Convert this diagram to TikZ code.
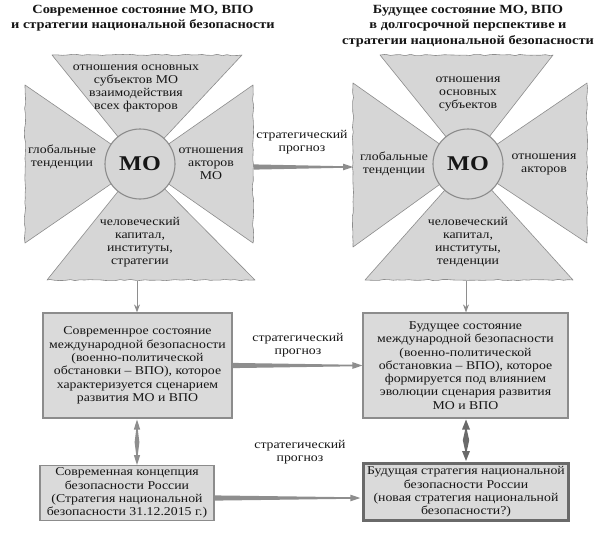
\documentclass[tikz,border=0pt]{standalone}
\usepackage{fontspec}
\setmainfont{Liberation Serif}[FakeStretch=1.15]
\usetikzlibrary{calc,decorations.pathmorphing,arrows.meta}
\definecolor{armfill}{HTML}{D6D6D6}
\definecolor{edgegray}{HTML}{8C8C8C}
\definecolor{boxfill}{HTML}{DADADA}
\definecolor{txt}{HTML}{161616}
\definecolor{arrgray}{HTML}{8E8E8E}
\definecolor{darkedge}{HTML}{6A6A6A}
\newcommand{\taperarr}[2]{%
  \fill[arrgray] ($(#1)+(0,-2.6)$) -- ($(#2)+(-10,-0.8)$) -- ($(#2)+(-10,-3.4)$) -- (#2)
    -- ($(#2)+(-10,3.4)$) -- ($(#2)+(-10,0.8)$) -- ($(#1)+(0,2.6)$) -- cycle;}
\newcommand{\spindle}[4]{% top, bottom, color, half width
  \fill[#3] (#1) -- ($(#1)+(#4+0.8,10)$) -- ($(#1)+(0.8,10)$) -- ($(#1)!0.5!(#2)+(#4,0)$)
    -- ($(#2)+(0.8,-10)$) -- ($(#2)+(#4+0.8,-10)$) -- (#2) -- ($(#2)+(-#4-0.8,-10)$)
    -- ($(#2)+(-0.8,-10)$) -- ($(#1)!0.5!(#2)+(-#4,0)$) -- ($(#1)+(-0.8,10)$)
    -- ($(#1)+(-#4-0.8,10)$) -- cycle;}
\tikzset{
  wavy/.style={decoration={random steps,segment length=5pt,amplitude=0.7pt}},
  arm/.style={fill=armfill,draw=edgegray,line width=0.6pt,line join=round},
  circ/.style={circle,fill=armfill,draw=edgegray,line width=1.1pt,minimum size=70pt,inner sep=0pt,
    text=txt,font=\fontsize{21}{24}\selectfont\bfseries},
  lbl/.style={align=center,text=txt,inner sep=1pt,font=\fontsize{12}{13}\selectfont},
  boxst/.style={draw=edgegray,fill=boxfill,line width=1.2pt,align=center,text=txt,inner sep=2pt,
    font=\fontsize{12}{13.3}\selectfont},
  title/.style={align=center,text=txt,font=\fontsize{12.5}{15.5}\selectfont\bfseries},
  vline/.style={draw=arrgray,line width=1pt,-{Stealth[length=8pt,width=6pt]}}
}
\begin{document}
\begin{tikzpicture}[x=1pt,y=-1pt]
\useasboundingbox (0,0) rectangle (596,547);
\pgfmathsetseed{7}
% titles
\node[title] (tl) at (143,18) {Современное состояние МО, ВПО\\и стратегии национальной безопасности};
\node[title] (tr) at (468,26) {Будущее состояние МО, ВПО\\в долгосрочной перспективе и\\стратегии национальной безопасности};
% left star
\filldraw[arm] (140,164) -- (52,55) decorate[wavy]{-- (242,55)} -- cycle;
\filldraw[arm] (140,164) -- (25,243) decorate[wavy]{-- (25,85)} -- cycle;
\filldraw[arm] (140,164) -- (253,85) decorate[wavy]{-- (253,243)} -- cycle;
\filldraw[arm] (140,164) -- (255,280) decorate[wavy]{-- (47,280)} -- cycle;
\node[circ] (LMO) at (140,164) {МО};
\node[lbl] (Ltop) at (136,88) {отношения основных\\субъектов МО\\взаимодействия\\всех факторов};
\node[lbl] (Lleft) at (62,157) {глобальные\\тенденции};
\node[lbl] (Lright) at (211,164) {отношения\\акторов\\МО};
\node[lbl] (Lbottom) at (140,242) {человеческий\\капитал,\\институты,\\стратегии};
% right star
\filldraw[arm] (468,164) -- (380,55) decorate[wavy]{-- (553,55)} -- cycle;
\filldraw[arm] (468,164) -- (353,247) decorate[wavy]{-- (353,83)} -- cycle;
\filldraw[arm] (468,164) -- (587,83) decorate[wavy]{-- (587,243)} -- cycle;
\filldraw[arm] (468,164) -- (573,280) decorate[wavy]{-- (365,280)} -- cycle;
\node[circ] (RMO) at (468,164) {МО};
\node[lbl] (Rtop) at (468,94) {отношения\\основных\\субъектов};
\node[lbl] (Rleft) at (394,164) {глобальные\\тенденции};
\node[lbl] (Rright) at (544,164) {отношения\\акторов};
\node[lbl] (Rbottom) at (468,242) {человеческий\\капитал,\\институты,\\тенденции};
% star connector ends
\coordinate (LstarE) at (254,167);
\coordinate (RstarW) at (353,167);
\coordinate (LstarS) at (137,281);
\coordinate (RstarS) at (466,281);
% boxes
\node[boxst,minimum width=189pt,minimum height=105pt] (b1) at (137.5,365.5)
  {Современнрое состояние\\международной безопасности\\(военно-политической\\обстановки – ВПО), которое\\характеризуется сценарием\\развития МО и ВПО};
\node[boxst,minimum width=205pt,minimum height=105pt] (b2) at (465.5,365.5)
  {Будущее состояние\\международной безопасности\\(военно-политической\\обстановкиа – ВПО), которое\\формируется под влиянием\\эволюции сценария развития\\МО и ВПО};
\node[boxst,minimum width=174pt,minimum height=54pt] (b3) at (127,493)
  {Современная концепция\\безопасности России\\(Стратегия национальной\\безопасности 31.12.2015 г.)};
\node[boxst,draw=darkedge,line width=3.5pt,minimum width=205pt,minimum height=57pt] (b4) at (466,492)
  {Будущая стратегия национальной\\безопасности России\\(новая стратегия национальной\\безопасности?)};
% labels
\node[lbl] (p1) at (302,142) {стратегический\\прогноз};
\node[lbl] (p2) at (298,345) {стратегический\\прогноз};
\node[lbl] (p3) at (300,452) {стратегический\\прогноз};
% connectors
\taperarr{LstarE}{RstarW}
\taperarr{b1.east}{b2.west}
\coordinate (b3e) at ($(b3.east)+(0,5)$);
\coordinate (b4w) at ($(b4.west)+(-1.5,6)$);
\taperarr{b3e}{b4w}
\draw[vline] (LstarS) -- (LstarS |- b1.north);
\draw[vline] (RstarS) -- (RstarS |- b2.north);
\coordinate (d1t) at (137,419.5);
\coordinate (d1b) at (137,465);
\coordinate (d2t) at (466,419.5);
\coordinate (d2b) at (466,461);
\spindle{d1t}{d1b}{arrgray}{2.4}
\spindle{d2t}{d2b}{darkedge}{3.2}
\end{tikzpicture}
\end{document}
